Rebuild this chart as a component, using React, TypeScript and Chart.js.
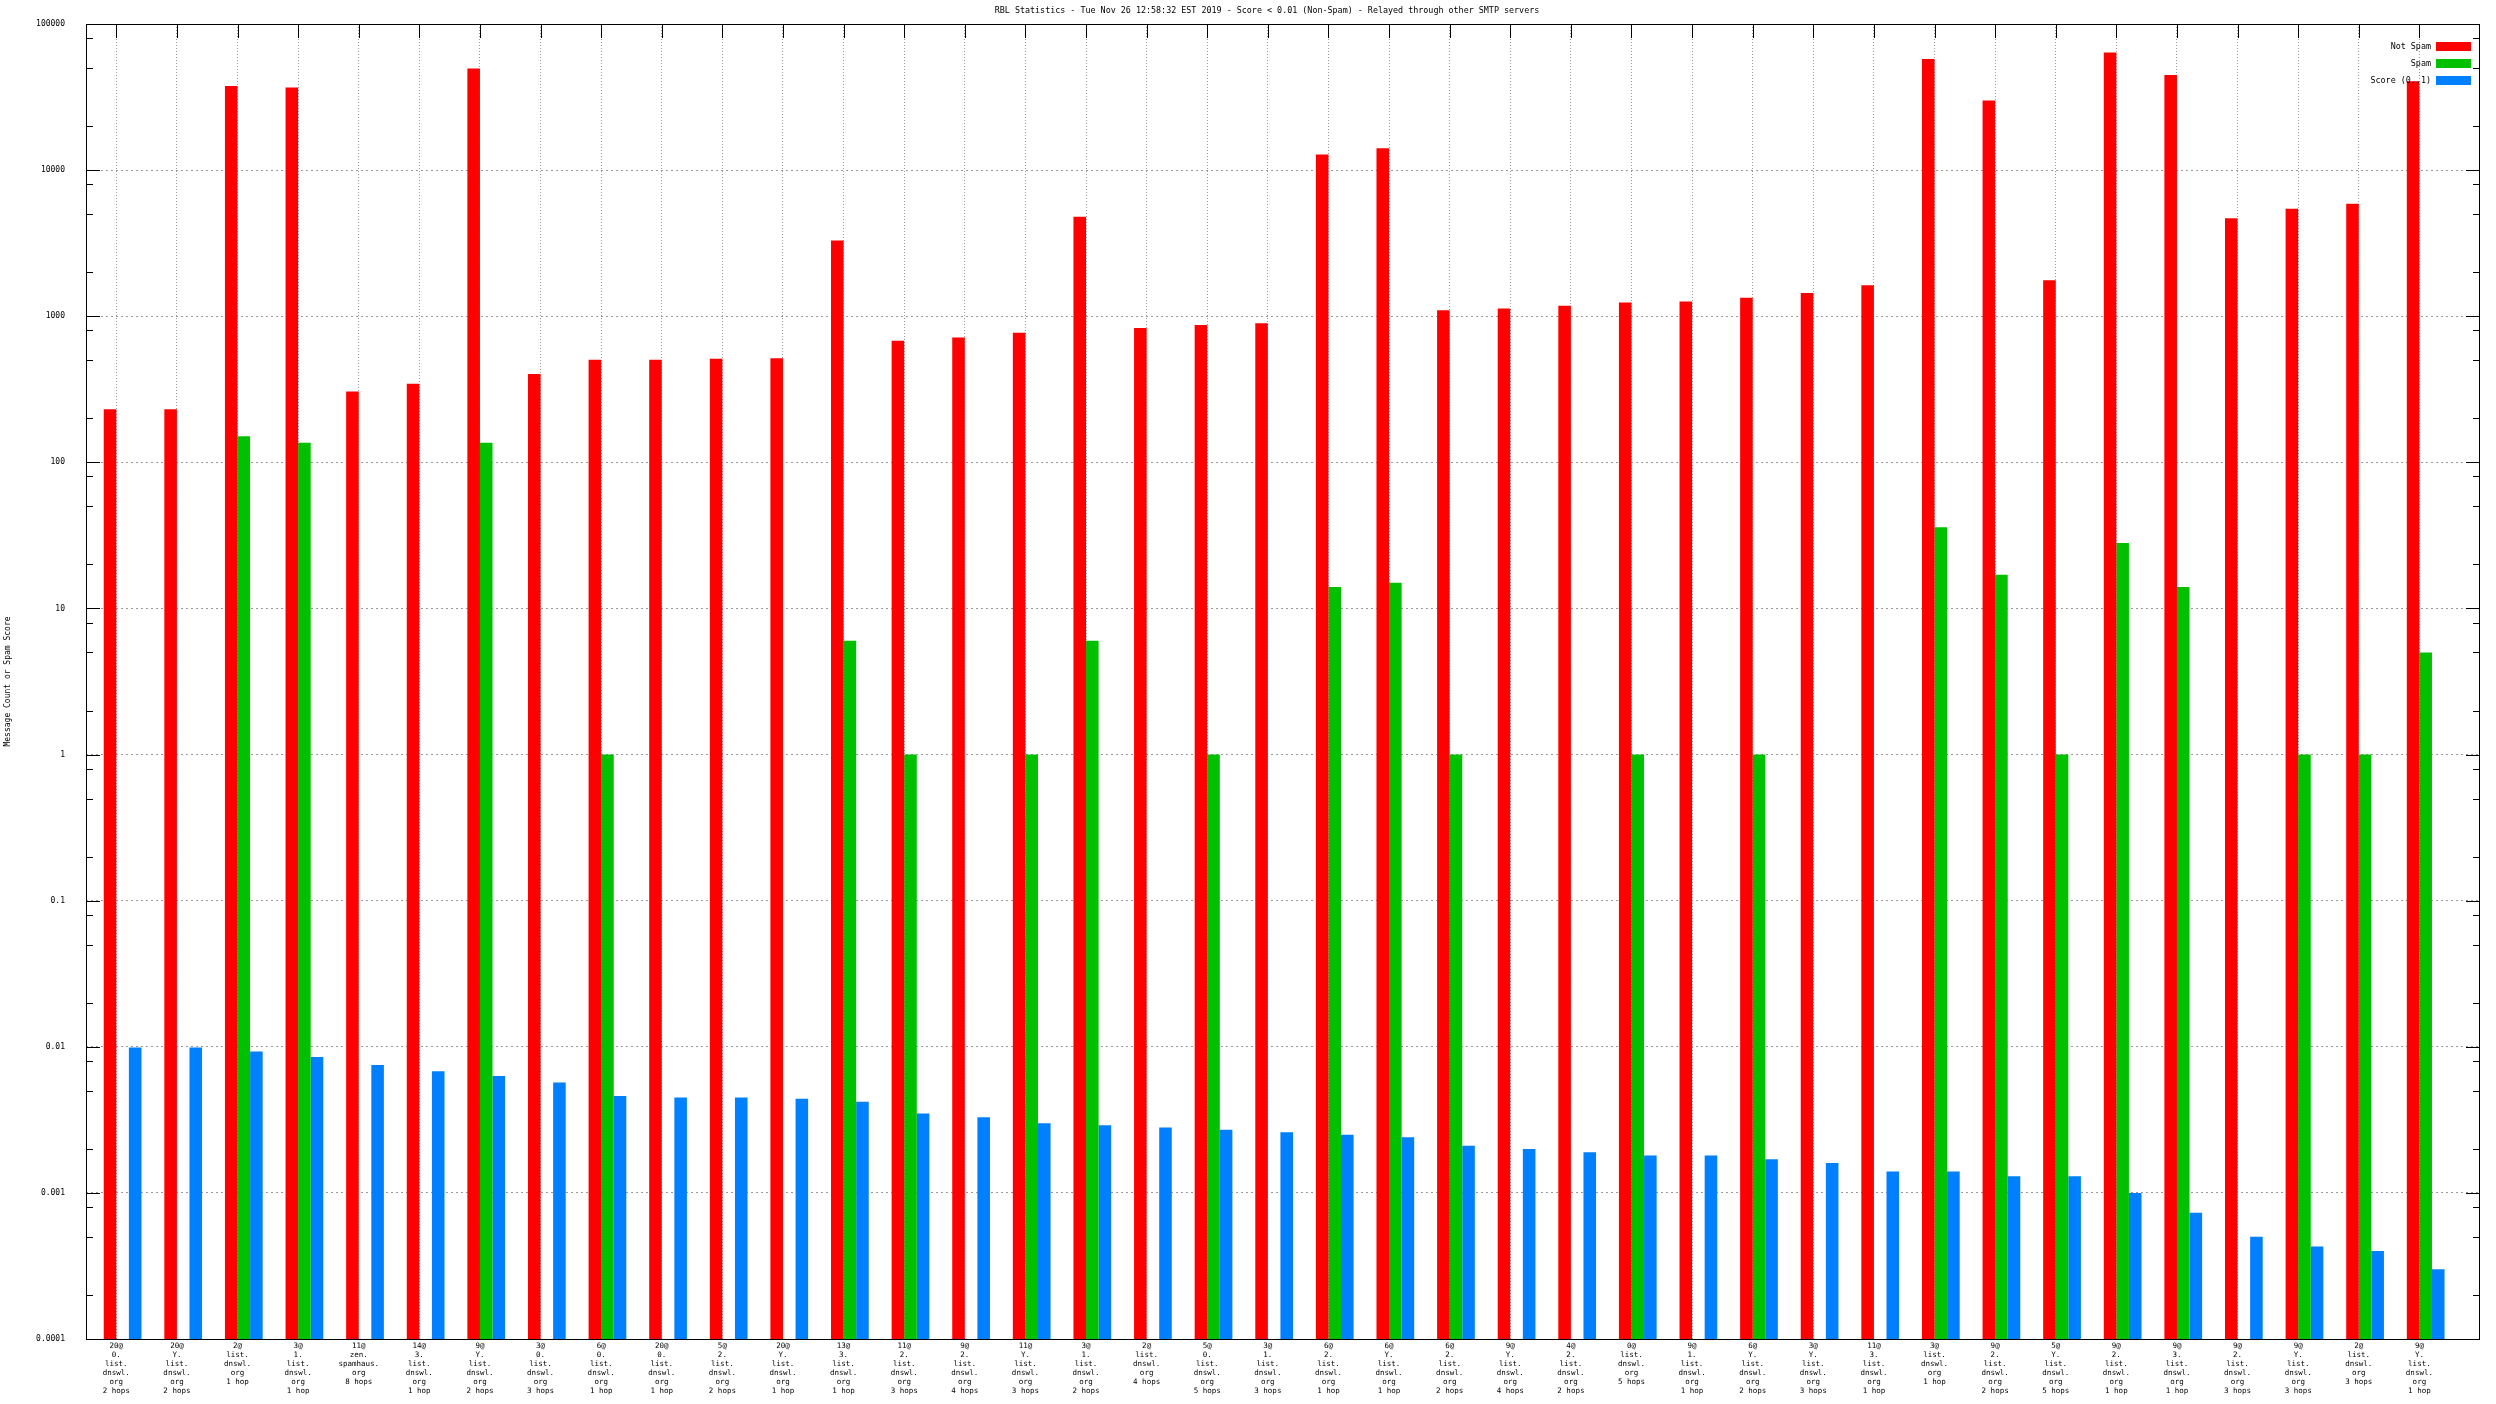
import React, { useEffect, useRef } from 'react';
import { Chart, registerables } from 'chart.js';

Chart.register(...registerables);

const TITLE = 'RBL Statistics - Tue Nov 26 12:58:32 EST 2019 - Score < 0.01 (Non-Spam) - Relayed through other SMTP servers';
const Y_TITLE = 'Message Count or Spam Score';
const seriesNames = ['Not Spam', 'Spam', 'Score (0..1)'];

const categories: string[][] = [
  ['20@', '0.', 'list.', 'dnswl.', 'org', '2 hops'],
  ['20@', 'Y.', 'list.', 'dnswl.', 'org', '2 hops'],
  ['2@', 'list.', 'dnswl.', 'org', '1 hop'],
  ['3@', '1.', 'list.', 'dnswl.', 'org', '1 hop'],
  ['11@', 'zen.', 'spamhaus.', 'org', '8 hops'],
  ['14@', '3.', 'list.', 'dnswl.', 'org', '1 hop'],
  ['9@', 'Y.', 'list.', 'dnswl.', 'org', '2 hops'],
  ['3@', '0.', 'list.', 'dnswl.', 'org', '3 hops'],
  ['6@', '0.', 'list.', 'dnswl.', 'org', '1 hop'],
  ['20@', '0.', 'list.', 'dnswl.', 'org', '1 hop'],
  ['5@', '2.', 'list.', 'dnswl.', 'org', '2 hops'],
  ['20@', 'Y.', 'list.', 'dnswl.', 'org', '1 hop'],
  ['13@', '3.', 'list.', 'dnswl.', 'org', '1 hop'],
  ['11@', '2.', 'list.', 'dnswl.', 'org', '3 hops'],
  ['9@', '2.', 'list.', 'dnswl.', 'org', '4 hops'],
  ['11@', 'Y.', 'list.', 'dnswl.', 'org', '3 hops'],
  ['3@', '1.', 'list.', 'dnswl.', 'org', '2 hops'],
  ['2@', 'list.', 'dnswl.', 'org', '4 hops'],
  ['5@', '0.', 'list.', 'dnswl.', 'org', '5 hops'],
  ['3@', '1.', 'list.', 'dnswl.', 'org', '3 hops'],
  ['6@', '2.', 'list.', 'dnswl.', 'org', '1 hop'],
  ['6@', 'Y.', 'list.', 'dnswl.', 'org', '1 hop'],
  ['6@', '2.', 'list.', 'dnswl.', 'org', '2 hops'],
  ['9@', 'Y.', 'list.', 'dnswl.', 'org', '4 hops'],
  ['4@', '2.', 'list.', 'dnswl.', 'org', '2 hops'],
  ['0@', 'list.', 'dnswl.', 'org', '5 hops'],
  ['9@', '1.', 'list.', 'dnswl.', 'org', '1 hop'],
  ['6@', 'Y.', 'list.', 'dnswl.', 'org', '2 hops'],
  ['3@', 'Y.', 'list.', 'dnswl.', 'org', '3 hops'],
  ['11@', '3.', 'list.', 'dnswl.', 'org', '1 hop'],
  ['3@', 'list.', 'dnswl.', 'org', '1 hop'],
  ['9@', '2.', 'list.', 'dnswl.', 'org', '2 hops'],
  ['5@', 'Y.', 'list.', 'dnswl.', 'org', '5 hops'],
  ['9@', '2.', 'list.', 'dnswl.', 'org', '1 hop'],
  ['9@', '3.', 'list.', 'dnswl.', 'org', '1 hop'],
  ['9@', '2.', 'list.', 'dnswl.', 'org', '3 hops'],
  ['9@', 'Y.', 'list.', 'dnswl.', 'org', '3 hops'],
  ['2@', 'list.', 'dnswl.', 'org', '3 hops'],
  ['9@', 'Y.', 'list.', 'dnswl.', 'org', '1 hop'],
];

const notSpam: number[] = [
  231, 231, 37600, 36800, 305, 345, 49500, 402, 504, 504,
  512, 515, 3300, 680, 715, 770, 4800, 830, 870, 895,
  12800, 14100, 1100, 1130, 1180, 1240, 1260, 1340, 1440, 1630,
  57500, 30000, 1760, 63700, 44800, 4690, 5450, 5880, 40500,
];

const spam: (number | null)[] = [
  null, null, 151, 136, null, null, 136, null, 1, null,
  null, null, 6, 1, null, 1, 6, null, 1, null,
  14, 15, 1, null, null, 1, null, 1, null, null,
  36, 17, 1, 28, 14, null, 1, 1, 5,
];

const score: number[] = [
  0.0099, 0.0099, 0.0093, 0.0085, 0.0075, 0.0068, 0.0063, 0.0057, 0.0046, 0.0045,
  0.0045, 0.0044, 0.0042, 0.0035, 0.0033, 0.0030, 0.0029, 0.0028, 0.0027, 0.0026,
  0.0025, 0.0024, 0.0021, 0.0020, 0.0019, 0.0018, 0.0018, 0.0017, 0.0016, 0.0014,
  0.0014, 0.0013, 0.0013, 0.0010, 0.00073, 0.0005, 0.00043, 0.0004, 0.0003,
];

const yTickValues = [0.0001, 0.001, 0.01, 0.1, 1, 10, 100, 1000, 10000, 100000];
const yTickLabels = ['0.0001', '0.001', '0.01', '0.1', '1', '10', '100', '1000', '10000', '100000'];
const yMinorMultipliers = [2, 5, 8];

const RED = '#ff0000';
const GREEN = '#00c000';
const BLUE = '#0080ff';
const GRID = '#999999';
const FONT = "'DejaVu Sans Mono', 'Liberation Mono', monospace";
const MAJOR_TICK = 14;
const MINOR_TICK = 7;

const gnuplotPlugin = {
  id: 'gnuplotFrame',
  beforeDatasetsDraw(chart: any) {
    const { ctx, chartArea: a, scales } = chart;
    const x = scales.x;
    const y = scales.y;
    ctx.save();
    ctx.strokeStyle = '#000';
    ctx.lineWidth = 1;
    ctx.beginPath();
    categories.forEach((_, i) => {
      const px = Math.round(x.getPixelForValue(i)) + 0.5;
      ctx.moveTo(px, a.top);
      ctx.lineTo(px, a.top + MAJOR_TICK);
    });
    yTickValues.forEach((v) => {
      const marks = [{ val: v, len: MAJOR_TICK }, ...yMinorMultipliers.map((m) => ({ val: v * m, len: MINOR_TICK }))];
      marks.forEach(({ val, len }) => {
        if (val > y.max * 1.0001) return;
        const py = Math.round(y.getPixelForValue(val)) + 0.5;
        ctx.moveTo(a.left, py);
        ctx.lineTo(a.left + len, py);
        ctx.moveTo(a.right, py);
        ctx.lineTo(a.right - len, py);
      });
    });
    ctx.stroke();
    ctx.restore();
  },
  afterDatasetsDraw(chart: any) {
    const { ctx, chartArea: a } = chart;
    ctx.save();
    ctx.strokeStyle = '#000';
    ctx.lineWidth = 1;
    ctx.strokeRect(Math.round(a.left) + 0.5, Math.round(a.top) + 0.5, Math.round(a.right - a.left) - 1, Math.round(a.bottom - a.top));

    // key (legend), gnuplot style: text right-aligned, colour box on the right
    const ds = chart.data.datasets.slice(1);
    ctx.font = `8.4px ${FONT}`;
    ctx.textAlign = 'right';
    ctx.textBaseline = 'middle';
    ds.forEach((d: any, i: number) => {
      const top = a.top + 18 + 17 * i;
      ctx.fillStyle = '#000';
      ctx.fillText(d.label, a.right - 49, top + 5);
      ctx.fillStyle = d.backgroundColor;
      ctx.fillRect(a.right - 44, top, 35, 9);
    });

    // title
    ctx.fillStyle = '#000';
    ctx.textAlign = 'center';
    ctx.font = `8.4px ${FONT}`;
    ctx.fillText(TITLE, chart.width / 2 + 19, 11);
    ctx.restore();
  },
};

export default function App() {
  const ref = useRef<HTMLCanvasElement>(null);
  useEffect(() => {
    const canvas = ref.current!;
    const chart = new Chart(canvas, {
      type: 'bar',
      data: {
        datasets: [
          {
            label: '',
            data: categories.map((_, i) => ({ x: i, y: null })),
            backgroundColor: 'rgba(0,0,0,0)',
          },
          { label: seriesNames[0], data: notSpam.map((v, i) => ({ x: i, y: v })), backgroundColor: RED },
          { label: seriesNames[1], data: spam.map((v, i) => ({ x: i, y: v })), backgroundColor: GREEN },
          { label: seriesNames[2], data: score.map((v, i) => ({ x: i, y: v })), backgroundColor: BLUE },
        ],
      } as any,
      options: {
        responsive: false,
        animation: false,
        devicePixelRatio: 1,
        layout: { padding: { left: 0, right: 16, top: 24, bottom: 0 } },
        datasets: { bar: { categoryPercentage: 0.83, barPercentage: 1.0, borderWidth: 0 } },
        plugins: {
          legend: { display: false },
          title: { display: false },
          tooltip: { enabled: false },
        },
        scales: {
          x: {
            type: 'linear',
            min: -0.5,
            max: 39,
            offset: false,
            bounds: 'data',
            afterBuildTicks: (s: any) => {
              s.ticks = categories.map((_, i) => ({ value: i }));
            },
            afterFit: (s: any) => {
              s.height = 65;
              s.paddingLeft = 0;
              s.paddingRight = 0;
            },
            grid: { color: GRID, lineWidth: 1, drawTicks: false, offset: false },
            border: { display: false, dash: [1, 2] },
            ticks: {
              autoSkip: false,
              maxRotation: 0,
              minRotation: 0,
              padding: 3,
              color: '#000',
              font: { family: FONT, size: 7.5, lineHeight: 1.2 },
              callback: (v: any) => categories[v] ?? '',
            },
          },
          y: {
            type: 'logarithmic',
            min: 0.0001,
            max: 100000,
            afterBuildTicks: (s: any) => {
              s.ticks = yTickValues.map((v) => ({ value: v }));
            },
            afterFit: (s: any) => {
              s.width = 86;
              s.paddingTop = 0;
              s.paddingBottom = 0;
            },
            grid: { color: GRID, lineWidth: 1, drawTicks: false },
            border: { display: false, dash: [2, 3] },
            ticks: {
              padding: 21,
              color: '#000',
              font: { family: FONT, size: 8 },
              callback: (_v: any, i: number) => yTickLabels[i],
            },
            title: {
              display: true,
              text: Y_TITLE,
              color: '#000',
              font: { family: FONT, size: 8 },
              padding: { top: 3, bottom: 0 },
            },
          },
        },
      } as any,
      plugins: [gnuplotPlugin],
    });
    return () => chart.destroy();
  }, []);
  return (
    <canvas
      ref={ref}
      width={2496}
      height={1404}
      style={{ position: 'fixed', left: 0, top: 0, display: 'block', width: 2496, height: 1404 }}
    />
  );
}
